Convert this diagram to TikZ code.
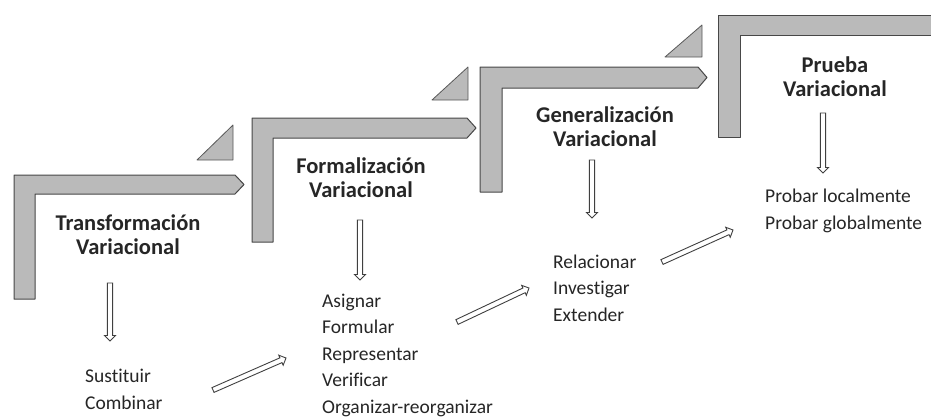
\documentclass[tikz,border=0pt]{standalone}
\usepackage{fontspec}
\setmainfont[Ligatures=NoCommon]{Carlito}
\usetikzlibrary{calc}
\newcommand\hollowarr[3]{%
  \coordinate (#3) at ($(#2)!5.5pt!(#1)$);
  \draw[hollow] ($(#1)!2.6pt!90:(#2)$) -- ($(#3)!2.6pt!90:(#2)$) -- ($(#3)!5.5pt!90:(#2)$)
    -- (#2) -- ($(#3)!5.5pt!-90:(#2)$) -- ($(#3)!2.6pt!-90:(#2)$) -- ($(#1)!2.6pt!-90:(#2)$) -- cycle;}
\begin{document}
\begin{tikzpicture}[x=1pt,y=-1pt,
  bar/.style={fill=black!27, draw=black!72, line width=1pt, line join=round},
  tri/.style={fill=black!27, draw=black!65, line width=0.8pt, line join=round},
  title/.style={font=\fontsize{22.5}{24}\selectfont\bfseries, text=black!85, align=center, inner sep=0pt},
  items/.style={font=\fontsize{19.5}{26.5}\selectfont, text=black!85, align=left, anchor=base west, inner sep=0pt},
  hollow/.style={draw=black!75, line width=0.9pt, fill=white, line join=miter}]
\useasboundingbox (0,0) rectangle (931,416);
\fill[white] (0,0) rectangle (931,416);
% L-shaped steps
\draw[bar] (14,175) -- (235,175) -- (244,184.5) -- (235,194) -- (35,194) -- (35,299) -- (14,299) -- cycle;
\draw[bar] (252,118) -- (467,118) -- (476,128) -- (467,138) -- (273,138) -- (273,242) -- (252,242) -- cycle;
\draw[bar] (480,67) -- (698,67) -- (707,77.5) -- (698,88) -- (502,88) -- (502,192) -- (480,192) -- cycle;
\begin{scope}
\clip (0,0) rectangle (931,416);
\draw[bar] (718,15) -- (940,15) -- (940,35) -- (740,35) -- (740,137) -- (718,137) -- cycle;
\end{scope}
% triangles
\draw[tri] (197,160) -- (233,125) -- (233,160) -- cycle;
\draw[tri] (432,100) -- (468,67) -- (468,100) -- cycle;
\draw[tri] (665,57) -- (702,25) -- (702,57) -- cycle;
% titles
\node[title] (t1) at (128,235) {Transformación\\Variacional};
\node[title] (t2) at (361,178) {Formalización\\Variacional};
\node[title] (t3) at (605,127) {Generalización\\Variacional};
\node[title] (t4) at (835,77) {Prueba\\Variacional};
% lists (base = baseline of last line)
\node[items] (l1) at (85,409) {Sustituir\\Combinar};
\node[items] (l2) at (322,413) {Asignar\\Formular\\Representar\\Verificar\\Organizar-reorganizar};
\node[items] (l3) at (553,321) {Relacionar\\Investigar\\Extender};
\node[items] (l4) at (765,229) {Probar localmente\\Probar globalmente};
% arrow end points
\coordinate (d1s) at (110,283); \coordinate (d1e) at (110,341);
\coordinate (d2s) at (360,220); \coordinate (d2e) at (360,280);
\coordinate (d3s) at (592,160); \coordinate (d3e) at (592,218);
\coordinate (d4s) at (823,113); \coordinate (d4e) at (823,173);
\coordinate (g1s) at (213,390); \coordinate (g1e) at (286,358);
\coordinate (g2s) at (457,322); \coordinate (g2e) at (529,288);
\coordinate (g3s) at (662,262); \coordinate (g3e) at (733,230);
\hollowarr{d1s}{d1e}{d1h}
\hollowarr{d2s}{d2e}{d2h}
\hollowarr{d3s}{d3e}{d3h}
\hollowarr{d4s}{d4e}{d4h}
\hollowarr{g1s}{g1e}{g1h}
\hollowarr{g2s}{g2e}{g2h}
\hollowarr{g3s}{g3e}{g3h}
\end{tikzpicture}
\end{document}
